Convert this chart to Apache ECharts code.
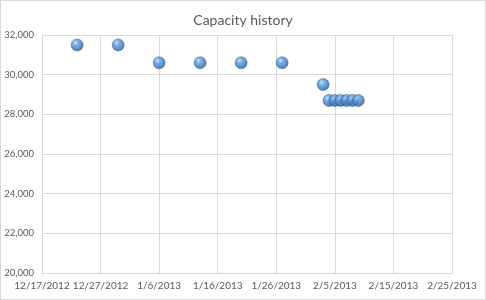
<!DOCTYPE html>
<html>
<head>
<meta charset="utf-8">
<script src="https://cdn.jsdelivr.net/npm/echarts@6/dist/echarts.min.js"></script>
<style>
  html, body { margin: 0; padding: 0; background: #fff; }
  #chart { width: 486px; height: 300px; box-sizing: border-box; border: 1px solid #d9d9d9; }
</style>
</head>
<body>
<div id="chart"></div>
<script>
var startDate = '2012-12-17';
var dates = ['2012-12-23', '2012-12-30', '2013-01-06', '2013-01-13', '2013-01-20', '2013-01-27',
             '2013-02-03', '2013-02-04', '2013-02-05', '2013-02-06', '2013-02-07', '2013-02-08', '2013-02-09'];
var capacity = [31500, 31500, 30600, 30600, 30600, 30600,
                29500, 28700, 28700, 28700, 28700, 28700, 28700];

var DAY = 86400000;
var t0 = Date.parse(startDate);
function dayOffset(s) { return Math.round((Date.parse(s) - t0) / DAY); }
function dayLabel(v) {
    var d = new Date(t0 + v * DAY);
    return (d.getUTCMonth() + 1) + '/' + d.getUTCDate() + '/' + d.getUTCFullYear();
}

var chart = echarts.init(document.getElementById('chart'));
var font = 'Lato';

chart.setOption({
    animation: false,
    title: {
        text: 'Capacity history',
        left: 'center',
        top: 7,
        textStyle: { fontFamily: font, fontSize: 14, fontWeight: 'normal', color: '#595959' }
    },
    grid: { left: 41, right: 33, top: 34, bottom: 26 },
    xAxis: {
        type: 'value',
        min: 0,
        max: 70,
        interval: 10,
        axisLine: { show: true, lineStyle: { color: '#d9d9d9' } },
        axisTick: { show: false },
        splitLine: { show: true, lineStyle: { color: '#d9d9d9' } },
        axisLabel: {
            formatter: dayLabel,
            showMinLabel: true,
            showMaxLabel: true,
            hideOverlap: false,
            fontFamily: font, fontSize: 10, color: '#595959', margin: 8
        }
    },
    yAxis: {
        type: 'value',
        min: 20000,
        max: 32000,
        interval: 2000,
        axisLine: { show: true, lineStyle: { color: '#d9d9d9' } },
        axisTick: { show: false },
        splitLine: { show: true, lineStyle: { color: '#d9d9d9' } },
        axisLabel: {
            formatter: function (v) { return v.toLocaleString('en-US'); },
            fontFamily: font, fontSize: 9.5, color: '#595959', margin: 8
        }
    },
    series: [{
        type: 'scatter',
        symbol: 'circle',
        symbolSize: 12,
        data: dates.map(function (d, i) { return [dayOffset(d), capacity[i]]; }),
        itemStyle: {
            color: {
                type: 'radial', x: 0.38, y: 0.32, r: 0.7,
                colorStops: [
                    { offset: 0, color: '#c4ddf5' },
                    { offset: 0.3, color: '#5a9adb' },
                    { offset: 0.8, color: '#2f6cb0' },
                    { offset: 1, color: '#214f85' }
                ]
            },
            borderColor: '#2b5a8f',
            borderWidth: 0.6
        }
    }]
});
</script>
</body>
</html>
